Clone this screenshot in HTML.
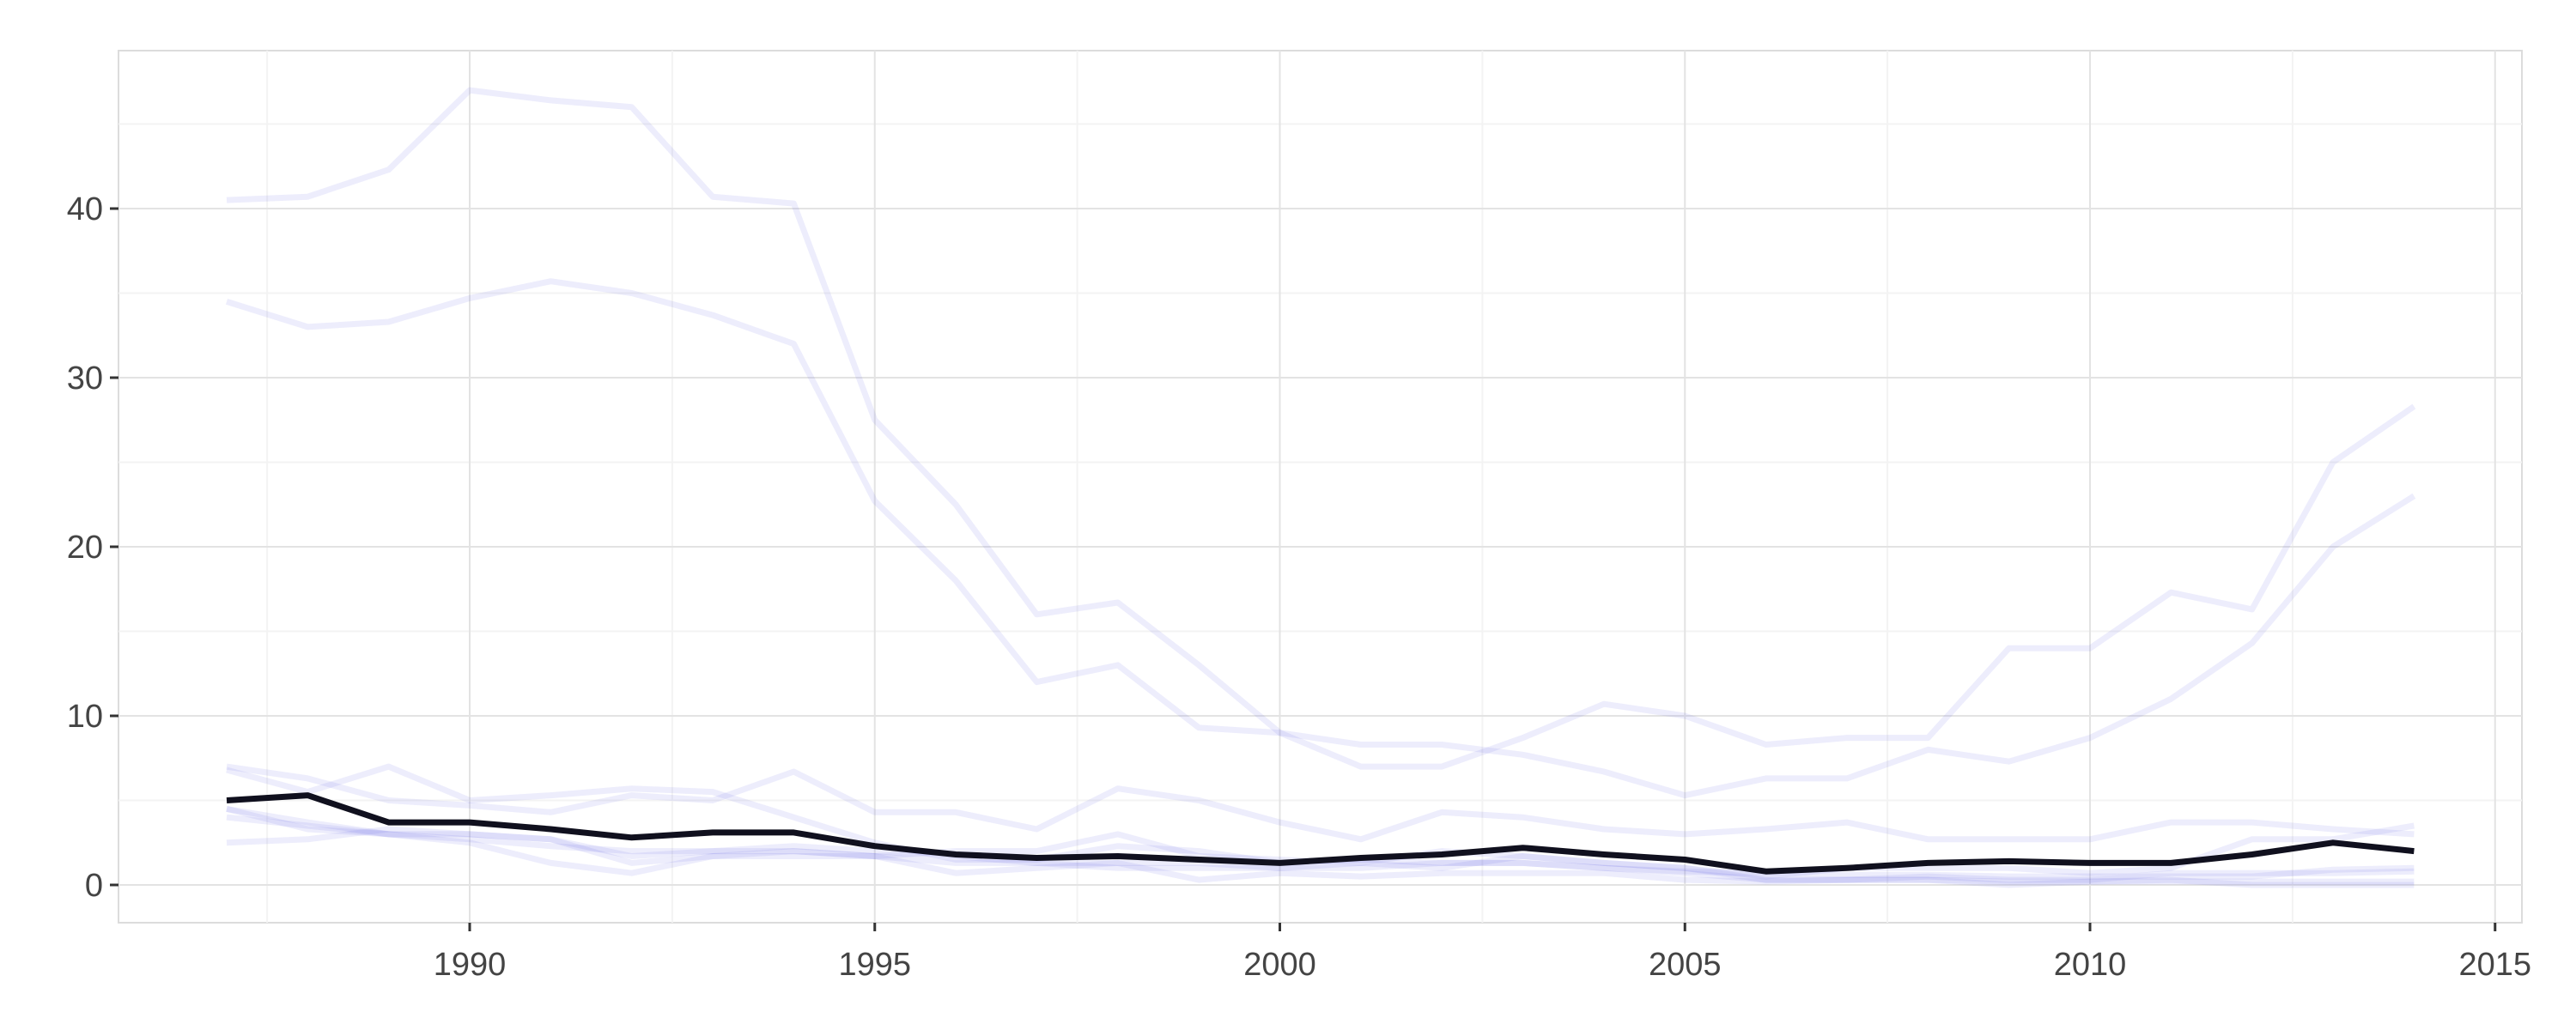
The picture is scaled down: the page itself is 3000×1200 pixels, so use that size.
<!DOCTYPE html>
<html><head><meta charset="utf-8"><style>
html,body{margin:0;padding:0;background:#fff;}
svg{display:block;font-family:"Liberation Sans",sans-serif;}
</style></head><body>
<svg id="chart" width="3000" height="1200" viewBox="0 0 3000 1200"></svg>
<script>
const years=[1987,1988,1989,1990,1991,1992,1993,1994,1995,1996,1997,1998,1999,2000,2001,2002,2003,2004,2005,2006,2007,2008,2009,2010,2011,2012,2013,2014];
const seriesA=[40.5,40.7,42.3,47,46.4,46,40.7,40.3,27.5,22.5,16,16.7,13,9,7,7,8.7,10.7,10,8.3,8.7,8.7,14,14,17.3,16.3,25,28.3];
const seriesB=[34.5,33,33.3,34.7,35.7,35,33.7,32,22.7,18,12,13,9.3,9,8.3,8.3,7.7,6.7,5.3,6.3,6.3,8,7.3,8.7,11,14.3,20,23];
const seriesC=[6.8,5.5,7.0,5.0,5.3,5.7,5.5,4.0,2.5,1.5,1.5,2.3,2.0,1.3,1.5,1.3,1.3,1.0,0.8,0.7,0.6,0.6,0.5,0.5,0.5,0.5,0.9,1.0];
const seriesD=[7.0,6.3,5.0,4.7,4.3,5.3,5.0,6.7,4.3,4.3,3.3,5.7,5.0,3.7,2.7,4.3,4.0,3.3,3.0,3.3,3.7,2.7,2.7,2.7,3.7,3.7,3.3,3.0];
const seriesE=[4.5,3.3,3.0,2.5,1.3,0.7,1.7,2.0,1.7,0.7,1.0,1.3,0.3,0.7,0.5,0.7,0.7,0.7,0.3,0.2,0.3,0.3,0.2,0.2,0.3,0.0,0.0,0.0];
const seriesF=[2.5,2.7,3.3,3.0,2.7,1.7,2.0,2.0,1.7,1.3,1.3,1.3,1.3,1.0,1.0,1.3,1.3,1.0,0.7,0.3,0.3,0.5,0.3,0.3,0.7,0.7,0.7,0.8];
const seriesG=[4.0,3.5,3.0,2.7,2.3,2.0,2.0,2.3,2.0,1.7,1.3,1.0,1.0,1.0,1.3,1.0,1.7,1.3,1.0,0.5,1.0,1.0,1.0,0.7,1.0,2.7,2.7,3.5];
const seriesH=[4.5,3.7,3.0,3.0,2.7,1.3,1.7,1.7,1.7,2.0,2.0,3.0,1.7,1.5,1.3,2.0,1.7,1.3,1.0,0.3,0.3,0.3,0.0,0.2,0.2,0.2,0.2,0.2];
const highlight=[5.0,5.3,3.7,3.7,3.3,2.8,3.1,3.1,2.3,1.8,1.6,1.7,1.5,1.3,1.6,1.8,2.2,1.8,1.5,0.8,1.0,1.3,1.4,1.3,1.3,1.8,2.5,2.0];
const xTicks=[1990,1995,2000,2005,2010,2015];
const yTicks=[0,10,20,30,40];

const NS="http://www.w3.org/2000/svg";
const svg=document.getElementById('chart');
const L=138,R=2937,T=59,B=1075;
const x=v=>547+(v-1990)*94.35;
const y=v=>1031-v*19.7;
function mk(tag,attrs,parent){const e=document.createElementNS(NS,tag);for(const k in attrs)e.setAttribute(k,attrs[k]);(parent||svg).appendChild(e);return e;}

const panel=mk('rect',{x:L,y:T,width:R-L,height:B-T,fill:'#fff',stroke:'#dcdcdc','stroke-width':2});


const grid=mk('g',{});


for(let v=5;v<50;v+=10){const l=mk('line',{x1:L,x2:R,y1:y(v),y2:y(v),stroke:'#f3f3f3','stroke-width':2},grid);}
for(let v=1987.5;v<2016;v+=5){const l=mk('line',{x1:x(v),x2:x(v),y1:T,y2:B,stroke:'#f3f3f3','stroke-width':2},grid);}
yTicks.forEach(v=>{const l=mk('line',{x1:L,x2:R,y1:y(v),y2:y(v),stroke:'#e3e3e3','stroke-width':2},grid);});
xTicks.forEach(v=>{const l=mk('line',{x1:x(v),x2:x(v),y1:T,y2:B,stroke:'#e3e3e3','stroke-width':2},grid);});

const ax=mk('g',{});


yTicks.forEach(v=>{
 const t=mk('line',{x1:L-10,x2:L,y1:y(v),y2:y(v),stroke:'#333','stroke-width':3},ax);
 
 
 const tx=mk('text',{x:L-18,y:y(v)+13,'text-anchor':'end','font-size':38,fill:'#444'},ax);
 tx.textContent=v;
 
 
});
xTicks.forEach(v=>{
 const t=mk('line',{x1:x(v),x2:x(v),y1:B,y2:B+10,stroke:'#333','stroke-width':3},ax);
 
 
 const tx=mk('text',{x:x(v),y:B+61,'text-anchor':'middle','font-size':38,fill:'#444'},ax);
 tx.textContent=v;
 
 
});

function pathOf(vals){return vals.map((v,i)=>(i?'L':'M')+x(years[i]).toFixed(1)+' '+y(v).toFixed(1)).join(' ');}
const bg=[seriesA,seriesB,seriesC,seriesD,seriesE,seriesF,seriesG,seriesH];
const lines=mk('g',{fill:'none','stroke-linejoin':'round'});


bg.forEach((s,i)=>{
 const p=mk('path',{d:pathOf(s),stroke:'#5a5ae0','stroke-opacity':0.11,'stroke-width':7},lines);
 
 
});
const hp=mk('path',{d:pathOf(highlight),stroke:'#10101e','stroke-width':7},lines);


</script>
</body></html>
